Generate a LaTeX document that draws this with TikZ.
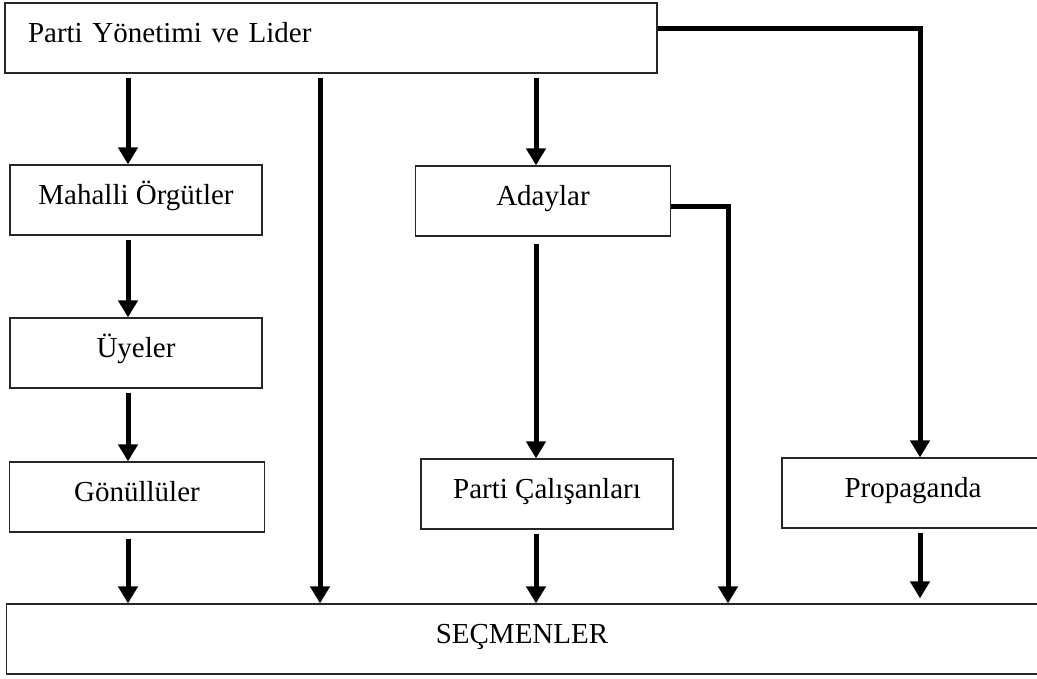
\documentclass[tikz,border=0pt]{standalone}
\usepackage{fontspec}
\setmainfont{Liberation Serif}
\usetikzlibrary{arrows.meta}

\begin{document}
\begin{tikzpicture}[x=1pt, y=-1pt,
  kutu/.style = {draw=black!85, line width=1.2pt, inner sep=0pt, minimum height=70pt,
                 text height=39pt, text depth=31pt, font=\fontsize{29}{34}\selectfont},
  ok/.style = {-{Triangle[width=19pt,length=17pt]}, line width=5pt, shorten <=4pt},
  hat/.style = {line width=5pt}]
\useasboundingbox (0,0) rectangle (1037,678);
\clip (0,0) rectangle (1037,678);

% kutular
\node[kutu, text width=606pt, align=left, inner xsep=23pt] (lider) at (331,38) {Parti Yönetimi ve Lider};
\node[kutu, minimum width=252pt] (mahalli) at (136,200) {Mahalli Örgütler};
\node[kutu, minimum width=252pt] (uyeler) at (136,353) {Üyeler};
\node[kutu, minimum width=255pt] (gonullu) at (137,497) {Gönüllüler};
\node[kutu, minimum width=255pt] (adaylar) at (543,201) {Adaylar};
\node[kutu, minimum width=252pt] (calisan) at (547,494) {Parti Çalışanları};
\node[kutu, minimum width=262pt] (propa) at (913,493) {Propaganda};
\node[kutu, minimum width=1031pt] (secmen) at (522,639) {SEÇMENLER};

% sutunlar
\coordinate (sA) at (128,0);
\coordinate (sB) at (320,0);
\coordinate (sC) at (536,0);
\coordinate (sD) at (728,0);
\coordinate (sE) at (920,0);

% oklar
\draw[ok] (lider.south -| sA) -- (mahalli.north -| sA);
\draw[ok] (mahalli.south -| sA) -- (uyeler.north -| sA);
\draw[ok] (uyeler.south -| sA) -- (gonullu.north -| sA);
\draw[ok, shorten <=6pt] (gonullu.south -| sA) -- (secmen.north -| sA);
\draw[ok] (lider.south -| sB) -- (secmen.north -| sB);
\draw[ok] (lider.south -| sC) -- (adaylar.north -| sC);
\draw[ok, shorten <=7pt] (adaylar.south -| sC) -- (calisan.north -| sC);
\draw[ok] (calisan.south -| sC) -- (secmen.north -| sC);
\draw[ok, shorten <=0pt] ([yshift=-5pt]adaylar.east) -| (secmen.north -| sD);
\draw[ok, shorten <=0pt] ([yshift=10pt]lider.east) -| (propa.north -| sE);
\draw[ok, shorten >=5pt] (propa.south -| sE) -- (secmen.north -| sE);
\end{tikzpicture}
\end{document}
